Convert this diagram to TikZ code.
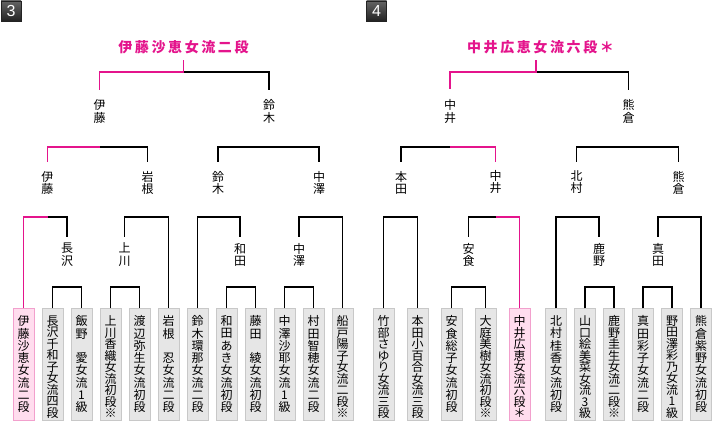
\documentclass[tikz,border=0pt]{standalone}
\usepackage{fontspec}
\newfontfamily\jp{Noto Sans CJK JP}
\newfontfamily\hdfont{Liberation Sans}
\definecolor{pk}{RGB}{228,20,140}
\definecolor{pkfill}{RGB}{255,221,238}
\definecolor{pkdraw}{RGB}{242,160,205}
\definecolor{gfill}{RGB}{230,230,230}
\definecolor{gdraw}{RGB}{200,200,200}
\definecolor{htop}{RGB}{100,100,100}
\definecolor{hbot}{RGB}{35,35,35}
\makeatletter
\newcommand\vtext[2]{\vbox{\baselineskip=#1\relax\lineskiplimit=-50pt\lineskip=0pt\relax\vt@rest#2\vt@end}}
\def\vt@rest#1{\ifx#1\vt@end\else\hbox to 14pt{\hss#1\hss}\expandafter\vt@rest\fi}
\makeatother
\newcommand\spc{\kern2.6pt}
\begin{document}
\begin{tikzpicture}[x=1pt,y=-1pt,
  ln/.style={line width=1.3pt, black},
  pl/.style={line width=1.3pt, pk},
  gbox/.style={draw=gdraw, fill=gfill, line width=1pt, minimum width=21pt, minimum height=112pt, inner sep=0pt, outer sep=0pt},
  pbox/.style={gbox, draw=pkdraw, fill=pkfill},
  btxt/.style={anchor=north, inner sep=0pt, yshift=-7pt, font=\jp\fontsize{12}{12}\selectfont},
  lab/.style={inner xsep=0pt, font=\jp\fontsize{12}{12}\selectfont},
  lz/.style={lab, inner ysep=10pt},
  lo/.style={lab, inner ysep=9pt},
  lt/.style={lab, inner ysep=6pt},
  champ/.style={text=pk, inner xsep=0pt, inner ysep=6.5pt, font=\jp\bfseries\fontsize{14}{14}\selectfont},
  hd/.style={minimum width=20pt, minimum height=20pt, inner sep=0pt, top color=htop, bottom color=hbot, draw=hbot, line width=0.6pt, text=white, font=\hdfont\fontsize{16}{16}\selectfont}
]
\fill[white] (0,0) rectangle (724,422);
\useasboundingbox (0,0) rectangle (724,422);
% level y's
\coordinate (y0) at (0,72);
\coordinate (y1) at (0,147);
\coordinate (y2) at (0,217);
\coordinate (y3) at (0,287);
% headers
\node[hd] (h3) at (11,11) {3};
\node[hd] (h4) at (376.5,11) {4};
% champions
\node[champ] (champL) at (183.5,47) {伊\spc 藤\spc 沙\spc 恵\spc 女\spc 流\spc 二\spc 段};
\node[champ] (champR) at (540.5,47) {中\spc 井\spc 広\spc 恵\spc 女\spc 流\spc 六\spc 段\spc ＊};
\coordinate (stemL) at (champL.south);
\coordinate (stemR) at ([xshift=-4.5pt]champR.south);
% left boxes
\node[pbox] (b1) at (23.5,364.5) {};
\node[gbox] (b2) at (52.5,364.5) {};
\node[gbox] (b3) at (81.5,364.5) {};
\node[gbox] (b4) at (110.5,364.5) {};
\node[gbox] (b5) at (139.5,364.5) {};
\node[gbox] (b6) at (168.5,364.5) {};
\node[gbox] (b7) at (197.5,364.5) {};
\node[gbox] (b8) at (226.5,364.5) {};
\node[gbox] (b9) at (255.5,364.5) {};
\node[gbox] (b10) at (284.5,364.5) {};
\node[gbox] (b11) at (313.5,364.5) {};
\node[gbox] (b12) at (342.5,364.5) {};
\node[btxt] (t1) at (b1.north) {\vtext{12.3pt}{伊藤沙恵女流二段}};
\node[btxt] (t2) at (b2.north) {\vtext{11.5pt}{長沢千和子女流四段}};
\node[btxt] (t3) at (b3.north) {\vtext{12.3pt}{飯野　愛女流1級}};
\node[btxt] (t4) at (b4.north) {\vtext{11.5pt}{上川香織女流初段※}};
\node[btxt] (t5) at (b5.north) {\vtext{12.3pt}{渡辺弥生女流初段}};
\node[btxt] (t6) at (b6.north) {\vtext{12.3pt}{岩根　忍女流二段}};
\node[btxt] (t7) at (b7.north) {\vtext{12.3pt}{鈴木環那女流二段}};
\node[btxt] (t8) at (b8.north) {\vtext{12.3pt}{和田あき女流初段}};
\node[btxt] (t9) at (b9.north) {\vtext{12.3pt}{藤田　綾女流初段}};
\node[btxt] (t10) at (b10.north) {\vtext{12.3pt}{中澤沙耶女流1級}};
\node[btxt] (t11) at (b11.north) {\vtext{12.3pt}{村田智穂女流二段}};
\node[btxt] (t12) at (b12.north) {\vtext{11.5pt}{船戸陽子女流二段※}};
% right boxes
\node[gbox] (c1) at (383.5,364.5) {};
\node[gbox] (c2) at (417.5,364.5) {};
\node[gbox] (c3) at (451.5,364.5) {};
\node[gbox] (c4) at (485.5,364.5) {};
\node[pbox] (c5) at (519.5,364.5) {};
\node[gbox] (c6) at (556,364.5) {};
\node[gbox] (c7) at (585,364.5) {};
\node[gbox] (c8) at (614,364.5) {};
\node[gbox] (c9) at (643,364.5) {};
\node[gbox] (c10) at (672,364.5) {};
\node[gbox] (c11) at (701,364.5) {};
\node[btxt] (s1) at (c1.north) {\vtext{11.5pt}{竹部さゆり女流三段}};
\node[btxt] (s2) at (c2.north) {\vtext{11.5pt}{本田小百合女流三段}};
\node[btxt] (s3) at (c3.north) {\vtext{12.3pt}{安食総子女流初段}};
\node[btxt] (s4) at (c4.north) {\vtext{11.5pt}{大庭美樹女流初段※}};
\node[btxt] (s5) at (c5.north) {\vtext{11.5pt}{中井広恵女流六段＊}};
\node[btxt] (s6) at (c6.north) {\vtext{12.3pt}{北村桂香女流初段}};
\node[btxt] (s7) at (c7.north) {\vtext{11.5pt}{山口絵美菜女流3級}};
\node[btxt] (s8) at (c8.north) {\vtext{11.5pt}{鹿野圭生女流二段※}};
\node[btxt] (s9) at (c9.north) {\vtext{12.3pt}{真田彩子女流二段}};
\node[btxt] (s10) at (c10.north) {\vtext{11.5pt}{野田澤彩乃女流1級}};
\node[btxt] (s11) at (c11.north) {\vtext{12.3pt}{熊倉紫野女流初段}};
% labels left
\node[lz] (tA) at (99.5,111.5) {\vtext{12.5pt}{伊藤}};
\node[lz] (tB) at (269,111.5) {\vtext{12.5pt}{鈴木}};
\node[lo] (mA) at (47.5,182.5) {\vtext{12pt}{伊藤}};
\node[lo] (mB) at (147.5,182.5) {\vtext{12pt}{岩根}};
\node[lo] (mC) at (218,182.5) {\vtext{12pt}{鈴木}};
\node[lo] (mD) at (319,182.5) {\vtext{12pt}{中澤}};
\node[lt] (lA) at (67,254.7) {\vtext{12.5pt}{長沢}};
\node[lt] (lB) at (124.5,254.7) {\vtext{12.5pt}{上川}};
\node[lt] (lC) at (240,254.7) {\vtext{12.5pt}{和田}};
\node[lt] (lD) at (299,254.7) {\vtext{12.5pt}{中澤}};
% labels right
\node[lz] (uA) at (450,111.5) {\vtext{12.5pt}{中井}};
\node[lz] (uB) at (628.5,111.5) {\vtext{12.5pt}{熊倉}};
\node[lo] (sA) at (401,182.5) {\vtext{12pt}{本田}};
\node[lo] (sB) at (495.5,182.5) {\vtext{12pt}{中井}};
\node[lo] (sC) at (576.5,182.5) {\vtext{12pt}{北村}};
\node[lo] (sD) at (678.5,182.5) {\vtext{12pt}{熊倉}};
\node[lt] (rA) at (468.5,254.7) {\vtext{12.5pt}{安食}};
\node[lt] (rB) at (599,254.7) {\vtext{12.5pt}{鹿野}};
\node[lt] (rC) at (658,254.7) {\vtext{12.5pt}{真田}};
% ---- left connectors ----
\draw[ln] (b2.north) |- (b3.north |- y3) -- (b3.north);
\draw[ln] (b4.north) |- (b5.north |- y3) -- (b5.north);
\draw[ln] (b8.north) |- (b9.north |- y3) -- (b9.north);
\draw[ln] (b10.north) |- (b11.north |- y3) -- (b11.north);
\draw[ln] (mA.center |- y2) -| (lA.north);
\draw[pl] (b1.north) |- (mA.center |- y2);
\draw[ln] (lB.north) |- (b6.north |- y2) -- (b6.north);
\draw[ln] (b7.north) |- (lC.north |- y2) -- (lC.north);
\draw[ln] (lD.north) |- (b12.north |- y2) -- (b12.north);
\draw[ln] (tA.center |- y1) -| (mB.north);
\draw[pl] (mA.north) |- (tA.center |- y1);
\draw[ln] (mC.north) |- (mD.north |- y1) -- (mD.north);
\draw[ln] (stemL |- y0) -| (tB.north);
\draw[pl] (stemL) -- (stemL |- y0) -| (tA.north);
% ---- right connectors ----
\draw[ln] (c3.north) |- (c4.north |- y3) -- (c4.north);
\draw[ln] (c7.north) |- (c8.north |- y3) -- (c8.north);
\draw[ln] (c9.north) |- (c10.north |- y3) -- (c10.north);
\draw[ln] (c1.north) |- (c2.north |- y2) -- (c2.north);
\draw[ln] (rA.north) |- (sB.center |- y2);
\draw[pl] (sB.center |- y2) -| (c5.north);
\draw[ln] (c6.north) |- (rB.north |- y2) -- (rB.north);
\draw[ln] (rC.north) |- (c11.north |- y2) -- (c11.north);
\draw[ln] (sA.north) |- (uA.center |- y1);
\draw[pl] (uA.center |- y1) -| (sB.north);
\draw[ln] (sC.north) |- (sD.north |- y1) -- (sD.north);
\draw[ln] (stemR |- y0) -| (uB.north);
\draw[pl] (stemR) -- (stemR |- y0) -| (uA.north);
\end{tikzpicture}
\end{document}
